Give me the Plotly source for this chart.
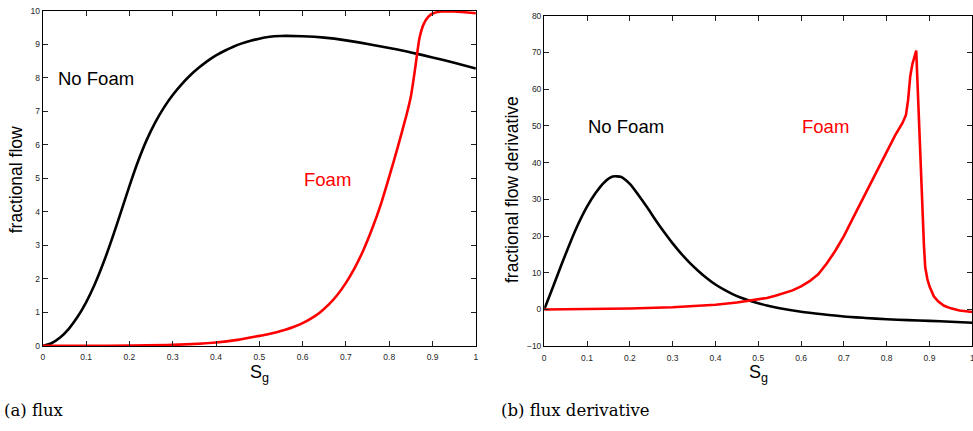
import plotly.graph_objects as go

# ---- data ----
flux_sg_nofoam = [0, 0.02, 0.04, 0.06, 0.08, 0.1, 0.12, 0.14, 0.16, 0.18, 0.2, 0.22, 0.24, 0.26, 0.28, 0.3, 0.32,
                  0.34, 0.36, 0.38, 0.4, 0.42, 0.44, 0.46, 0.48, 0.5, 0.52, 0.55, 0.6, 0.65, 0.7, 0.75, 0.8, 0.85,
                  0.9, 0.95, 1.0]
flux_nofoam = [0, 0.08, 0.25, 0.51, 0.86, 1.3, 1.84, 2.48, 3.2, 3.98, 4.77, 5.51, 6.15, 6.68, 7.12, 7.49, 7.8,
               8.07, 8.3, 8.5, 8.67, 8.81, 8.93, 9.03, 9.11, 9.17, 9.22, 9.25, 9.24, 9.2, 9.12, 9.01, 8.89, 8.76,
               8.61, 8.45, 8.28]

flux_sg_foam = [0, 0.1, 0.2, 0.3, 0.4, 0.45, 0.5, 0.52, 0.54, 0.56, 0.58, 0.6, 0.62, 0.64, 0.66, 0.68, 0.7, 0.72,
                0.74, 0.76, 0.78, 0.8, 0.82, 0.84, 0.85, 0.86, 0.87, 0.88, 0.89, 0.9, 0.92, 0.95, 1.0]
flux_foam = [0, 0.0, 0.01, 0.03, 0.1, 0.18, 0.3, 0.35, 0.41, 0.48, 0.57, 0.68, 0.82, 1.0, 1.23, 1.52, 1.88, 2.32,
             2.85, 3.48, 4.2, 5.05, 5.95, 6.9, 7.45, 8.3, 9.2, 9.62, 9.82, 9.92, 9.98, 9.98, 9.93]

deriv_sg_nofoam = [0, 0.02, 0.04, 0.06, 0.08, 0.1, 0.12, 0.14, 0.16, 0.18, 0.2, 0.22, 0.24, 0.26, 0.28, 0.3, 0.32,
                   0.34, 0.36, 0.38, 0.4, 0.42, 0.44, 0.46, 0.48, 0.5, 0.52, 0.55, 0.6, 0.65, 0.7, 0.75, 0.8, 0.85,
                   0.9, 0.95, 1.0]
deriv_nofoam = [0, 6.0, 12.1, 18.0, 23.4, 28.0, 31.7, 34.6, 36.2, 36.1, 34.2, 31.2, 27.9, 24.4, 21.1, 18.0, 15.2,
                12.7, 10.5, 8.5, 6.8, 5.4, 4.2, 3.2, 2.4, 1.7, 1.1, 0.35, -0.6, -1.3, -1.9, -2.3, -2.65, -2.9,
                -3.1, -3.35, -3.6]

deriv_sg_foam = [0, 0.1, 0.2, 0.3, 0.35, 0.4, 0.45, 0.5, 0.52, 0.54, 0.56, 0.58, 0.6, 0.62, 0.64, 0.66, 0.68, 0.7,
                 0.72, 0.74, 0.76, 0.78, 0.8, 0.82, 0.837, 0.845, 0.85, 0.855, 0.86, 0.869, 0.887, 0.89, 0.895,
                 0.9, 0.91, 0.92, 0.934, 0.95, 0.97, 1.0]
deriv_foam = [0, 0.05, 0.25, 0.6, 0.9, 1.3, 1.9, 2.7, 3.15, 3.75, 4.4, 5.2, 6.3, 7.7, 9.6, 12.5, 16.0, 20.0,
              24.6, 29.2, 33.9, 38.7, 43.3, 47.5, 50.8, 53.0, 57.0, 63.5, 66.8, 70.5, 17.5, 11.5, 8.3,
              6.3, 3.6, 2.2, 1.0, 0.3, -0.3, -0.7]

x_ticks = [0, 0.1, 0.2, 0.3, 0.4, 0.5, 0.6, 0.7, 0.8, 0.9, 1]
x_labels = ["0", "0.1", "0.2", "0.3", "0.4", "0.5", "0.6", "0.7", "0.8", "0.9", "1"]
flux_y_ticks = list(range(0, 11))
deriv_y_ticks = list(range(-10, 81, 10))

# ---- figure ----
W, H = 976, 431
SANS = "Liberation Sans, Arial, sans-serif"
SERIF = "DejaVu Serif, serif"

fig = go.Figure()
fig.add_trace(go.Scatter(x=flux_sg_nofoam, y=flux_nofoam, mode="lines",
                         line=dict(color="black", width=2.6, shape="spline", smoothing=0.6), xaxis="x", yaxis="y"))
fig.add_trace(go.Scatter(x=flux_sg_foam, y=flux_foam, mode="lines",
                         line=dict(color="#ff0000", width=2.6, shape="spline", smoothing=0.6), xaxis="x", yaxis="y"))
fig.add_trace(go.Scatter(x=deriv_sg_nofoam, y=deriv_nofoam, mode="lines",
                         line=dict(color="black", width=2.6, shape="spline", smoothing=0.6), xaxis="x2", yaxis="y2"))
fig.add_trace(go.Scatter(x=deriv_sg_foam, y=deriv_foam, mode="lines",
                         line=dict(color="#ff0000", width=2.6), xaxis="x2", yaxis="y2"))

axis_common = dict(showline=True, linecolor="black", linewidth=1.3, mirror="ticks", ticks="inside", ticklen=5,
                   tickwidth=1, tickcolor="#222", showgrid=False, zeroline=False,
                   tickfont=dict(family=SANS, size=8.5, color="#262626"))

fig.update_layout(
    width=W, height=H, margin=dict(l=0, r=0, t=0, b=0),
    paper_bgcolor="white", plot_bgcolor="white", showlegend=False,
    xaxis=dict(domain=[41 / W, 476.3 / W], range=[0, 1], tickvals=x_ticks, ticktext=x_labels, anchor="y",
               ticklabelstandoff=3, **axis_common),
    yaxis=dict(domain=[(H - 349) / H, (H - 6) / H], range=[0, 10], tickvals=flux_y_ticks, anchor="x", **axis_common),
    xaxis2=dict(domain=[545 / W, 975.3 / W], range=[0, 1], tickvals=x_ticks, ticktext=x_labels, anchor="y2",
                ticklabelstandoff=3, **axis_common),
    yaxis2=dict(domain=[(H - 349.3) / H, (H - 11) / H], range=[-10, 80], tickvals=deriv_y_ticks, anchor="x2",
                **axis_common),
)

ann = [
    dict(x=0.122, y=7.99, xref="x", yref="y", text="No Foam", font=dict(family=SANS, size=18.5, color="black")),
    dict(x=0.657, y=4.96, xref="x", yref="y", text="Foam", font=dict(family=SANS, size=18.5, color="#ff0000")),
    dict(x=0.192, y=49.7, xref="x2", yref="y2", text="No Foam", font=dict(family=SANS, size=18.5, color="black")),
    dict(x=0.657, y=49.7, xref="x2", yref="y2", text="Foam", font=dict(family=SANS, size=18.5, color="#ff0000")),
    dict(x=14 / W, y=1 - 178.5 / H, xref="paper", yref="paper", text="fractional flow", textangle=-90,
         font=dict(family=SANS, size=17.5, color="black")),
    dict(x=512 / W, y=1 - 189 / H, xref="paper", yref="paper", text="fractional flow derivative", textangle=-90,
         font=dict(family=SANS, size=17.5, color="black")),
    dict(x=258.5 / W, y=1 - 377 / H, xref="paper", yref="paper", text="S<sub>g</sub>",
         font=dict(family=SANS, size=18, color="black")),
    dict(x=760 / W, y=1 - 377 / H, xref="paper", yref="paper", text="S<sub>g</sub>",
         font=dict(family=SANS, size=18, color="black")),
    dict(x=0, y=1 - 415 / H, xref="paper", yref="paper", xanchor="left", text="(a) flux",
         font=dict(family=SERIF, size=16.5, color="black")),
    dict(x=500 / W, y=1 - 415 / H, xref="paper", yref="paper", xanchor="left", text="(b) flux derivative",
         font=dict(family=SERIF, size=16.5, color="black")),
]
for a in ann:
    a.setdefault("showarrow", False)
    a.setdefault("xanchor", "center")
    a.setdefault("yanchor", "middle")
    fig.add_annotation(**a)

fig.write_html("out.html", config={"displayModeBar": False},
               post_script="document.body.style.margin='0';document.body.style.overflow='hidden';")
